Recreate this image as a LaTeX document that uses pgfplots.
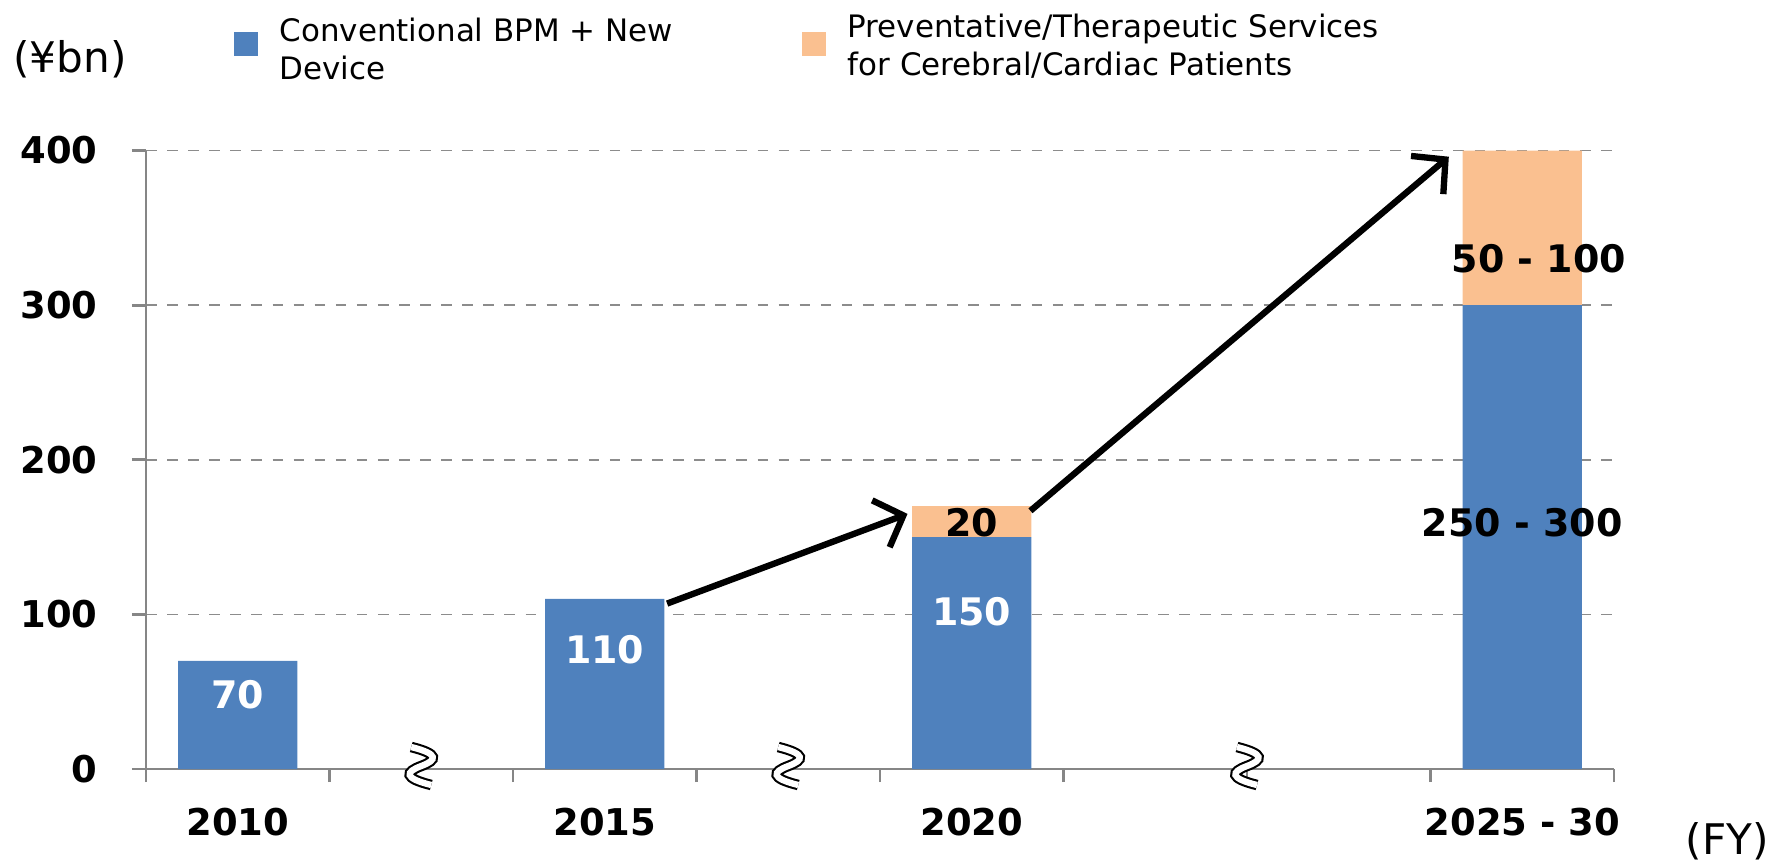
\documentclass[border=0pt]{standalone}
\usepackage{fontspec}
\setmainfont{DejaVu Sans}
\usepackage{pgfplots}
\pgfplotsset{compat=1.18}
\usetikzlibrary{arrows.meta}
\definecolor{bpmblue}{RGB}{79,129,189}
\definecolor{svcorange}{RGB}{250,192,144}
\definecolor{axgray}{RGB}{134,134,134}

\begin{document}
\begin{tikzpicture}
\useasboundingbox (-1.46,-0.93) rectangle (16.27,7.69);
\begin{axis}[
  scale only axis, width=14.68cm, height=6.185cm,
  xmin=0, xmax=8, ymin=0, ymax=400,
  axis lines*=left,
  axis line style={axgray, line width=0.8pt},
  ybar stacked, bar width=0.65,
  ytick={0,100,200,300,400},
  xtick={0.5,2.5,4.5,7.5},
  xticklabels={2010,2015,2020,2025 - 30},
  minor xtick={0,1,...,8},
  major x tick style={draw=none},
  tick align=outside,
  tick style={axgray, line width=0.8pt},
  major tick length=0.14cm, minor tick length=0.13cm,
  ymajorgrids, grid style={dashed, gray!90, line width=0.5pt},
  ticklabel style={font=\fontsize{10.5}{12}\selectfont\bfseries},
  xticklabel style={yshift=-0.13cm},
  yticklabel style={xshift=-0.22cm},
  /pgf/number format/assume math mode=true,
  clip=false,
]
\addplot[fill=bpmblue, draw=none] coordinates {(0.5,70) (2.5,110) (4.5,150) (7.5,300)};
\addplot[fill=svcorange, draw=none] coordinates {(0.5,0) (2.5,0) (4.5,20) (7.5,100)};

\coordinate (l70) at (axis cs:0.5,48);
\coordinate (l110) at (axis cs:2.5,77);
\coordinate (l150) at (axis cs:4.5,102);
\coordinate (l20) at (axis cs:4.5,159);
\coordinate (l250) at (axis cs:7.5,159);
\coordinate (l50) at (axis cs:7.59,330);
\coordinate (a1) at (axis cs:2.84,107);
\coordinate (a2) at (axis cs:4.15,165);
\coordinate (a3) at (axis cs:4.82,167);
\coordinate (a4) at (axis cs:7.1,396);
\coordinate (b1) at (axis cs:1.5,0);
\coordinate (b2) at (axis cs:3.5,0);
\coordinate (b3) at (axis cs:6,0);
\end{axis}

% value labels
\begin{scope}[every node/.style={font=\fontsize{10.8}{12}\selectfont\bfseries}]
\node[white] at (l70) {70};
\node[white] at (l110) {110};
\node[white] at (l150) {150};
\node at (l20) {20};
\node at (l250) {250 - 300};
\node at (l50) {50 - 100};
\end{scope}

% growth arrows
\draw[line width=1.8pt, -{Straight Barb[length=2.4mm,width=5mm]}] (a1) -- (a2);
\draw[line width=1.8pt, -{Straight Barb[length=2.4mm,width=5mm]}] (a3) -- (a4);

% axis break marks
\foreach \b in {b1,b2,b3}
  \draw[line width=0.6pt, double=white, double distance=1.8pt]
    ([shift={(-0.1,0.22)}]\b) .. controls +(0.28,-0.07) and +(0.16,0.06) .. ([shift={(0,0.03)}]\b)
    .. controls +(-0.16,-0.06) and +(-0.28,0.07) .. ([shift={(0.1,-0.16)}]\b);

% legend
\fill[bpmblue] (0.88,7.13) rectangle (1.12,7.37);
\node[anchor=west, align=left, inner sep=0, font=\fontsize{8.8}{10.7}\selectfont] at (1.33,7.20) {Conventional BPM + New\\Device};
\fill[svcorange] (6.56,7.13) rectangle (6.80,7.37);
\node[anchor=west, align=left, inner sep=0, font=\fontsize{8.8}{10.7}\selectfont] at (7.01,7.23) {Preventative/Therapeutic Services\\for Cerebral/Cardiac Patients};

\node[font=\fontsize{12}{14}\selectfont] at (-0.76,7.10) {(¥bn)};
\node[font=\fontsize{12}{14}\selectfont] at (15.81,-0.72) {(FY)};
\end{tikzpicture}
\end{document}
